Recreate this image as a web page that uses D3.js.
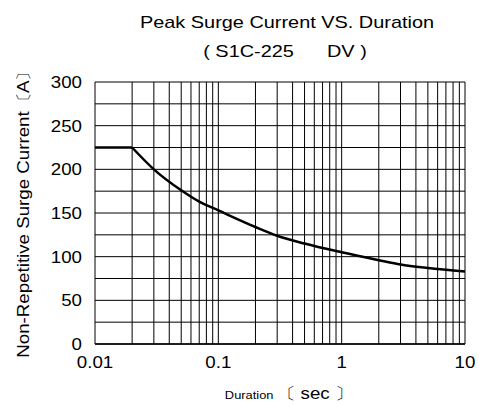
<!DOCTYPE html>
<html>
<head>
<meta charset="utf-8">
<script src="https://cdn.jsdelivr.net/npm/d3@7"></script>
<style>
  body { margin: 0; background: #fff; }
  text { font-family: "Liberation Sans", Arial, sans-serif; fill: #000; }
</style>
</head>
<body>
<div class="canvas"></div>
<script>
// margins and dimensions
const w = 479;
const h = 406;
const margin = { top: 82, right: 14, bottom: 62, left: 95 };
const graphWidth = w - margin.left - margin.right;
const graphHeight = h - margin.top - margin.bottom;
const sx = 1.17; // the lettering in the original is a little wide

// curve
const durations = [0.01, 0.02, 0.03, 0.05, 0.07, 0.1, 0.2, 0.3, 0.5, 1, 2, 3, 5, 10];
const currents = [225, 225, 200, 176, 163, 153, 134, 124, 115, 105, 96, 91, 87, 83];

// tick labels
const xTicks = [0.01, 0.1, 1, 10];
const yTicks = [0, 50, 100, 150, 200, 250, 300];
const yGrid = d3.range(0, 301, 25);

const svg = d3.select(".canvas").append("svg").attr("width", w).attr("height", h);

const graph = svg
  .append("g")
  .attr("transform", `translate(${margin.left}, ${margin.top})`);

const xScale = d3.scaleLog().domain([0.01, 10]).range([0, graphWidth]);
const yScale = d3.scaleLinear().domain([0, 300]).range([graphHeight, 0]);

// log grid: 1..9 in each decade
const xGrid = [];
[0.01, 0.1, 1].forEach((d) => {
  for (let i = 1; i <= 9; i++) xGrid.push(d * i);
});
xGrid.push(10);

graph
  .selectAll(".vgrid")
  .data(xGrid)
  .join("line")
  .attr("x1", (d) => xScale(d))
  .attr("x2", (d) => xScale(d))
  .attr("y1", 0)
  .attr("y2", graphHeight)
  .attr("stroke", "#000")
  .attr("stroke-width", 1);

graph
  .selectAll(".hgrid")
  .data(yGrid)
  .join("line")
  .attr("x1", 0)
  .attr("x2", graphWidth)
  .attr("y1", (d) => yScale(d))
  .attr("y2", (d) => yScale(d))
  .attr("stroke", "#000")
  .attr("stroke-width", 1);

// bottom axis line a bit heavier
graph
  .append("line")
  .attr("x1", 0)
  .attr("x2", graphWidth)
  .attr("y1", graphHeight)
  .attr("y2", graphHeight)
  .attr("stroke", "#000")
  .attr("stroke-width", 1.5);

// the curve: flat part straight, decay part smooth
const pts = durations.map((d, i) => [d, currents[i]]);
const flat = d3.line().x((d) => xScale(d[0])).y((d) => yScale(d[1]));
const decay = d3
  .line()
  .x((d) => xScale(d[0]))
  .y((d) => yScale(d[1]))
  .curve(d3.curveMonotoneX);

graph
  .append("path")
  .attr("d", flat(pts.slice(0, 2)))
  .attr("fill", "none")
  .attr("stroke", "#000")
  .attr("stroke-width", 2.5);

graph
  .append("path")
  .attr("d", decay(pts.slice(1)))
  .attr("fill", "none")
  .attr("stroke", "#000")
  .attr("stroke-width", 2.5);

// tick labels
graph
  .selectAll(".ylab")
  .data(yTicks)
  .join("text")
  .attr("transform", (d) => `translate(-13, ${yScale(d) + 6}) scale(${sx}, 1)`)
  .attr("text-anchor", "end")
  .attr("font-size", 16)
  .text((d) => d);

graph
  .selectAll(".xlab")
  .data(xTicks)
  .join("text")
  .attr("transform", (d) => `translate(${xScale(d)}, ${graphHeight + 24}) scale(${sx}, 1)`)
  .attr("text-anchor", "middle")
  .attr("font-size", 16)
  .text((d) => d);

// titles
svg
  .append("text")
  .attr("transform", `translate(287, 28) scale(${sx}, 1)`)
  .attr("text-anchor", "middle")
  .attr("font-size", 17)
  .text("Peak Surge Current VS. Duration");

svg
  .append("text")
  .attr("transform", `translate(285, 57) scale(${sx}, 1)`)
  .attr("text-anchor", "middle")
  .attr("font-size", 17)
  .style("white-space", "pre")
  .text("( S1C-225      DV )");

// axis labels
const xl = svg
  .append("text")
  .attr("transform", `translate(289, 399) scale(${sx}, 1)`)
  .attr("text-anchor", "middle");
xl.append("tspan").attr("font-size", 11).text("Duration ");
xl.append("tspan").attr("font-size", 16).text("〔 sec 〕");

svg
  .append("text")
  .attr("transform", `translate(29, 210) rotate(-90) scale(${sx}, 1)`)
  .attr("text-anchor", "middle")
  .attr("font-size", 16)
  .text("Non-Repetitive Surge Current〔A〕");
</script>
</body>
</html>
